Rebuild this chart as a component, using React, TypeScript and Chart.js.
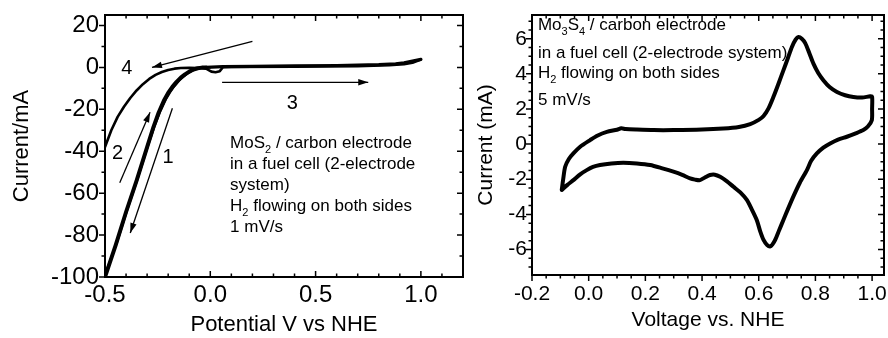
import React, { useEffect, useRef } from "react";
import { Chart, registerables } from "chart.js";

Chart.register(...registerables);

const FONT = "'Liberation Sans', Arial, Helvetica, sans-serif";

// ---------------- Left panel: MoS2 / carbon electrode ----------------
const leftXTicks = [-0.5, 0.0, 0.5, 1.0];
const leftYTicks = [-100, -80, -60, -40, -20, 0, 20];

// scan 1 (thick cathodic branch)
const scan1V = [-0.5, -0.45, -0.4, -0.35, -0.3, -0.27, -0.245, -0.22, -0.2, -0.18, -0.16, -0.14, -0.12, -0.1, -0.08, -0.06, -0.04, -0.02];
const scan1I = [-100, -85, -69, -54, -38, -28.5, -21.5, -15.8, -12.2, -9.3, -6.9, -4.9, -3.3, -2.0, -1.0, -0.4, -0.1, 0];
// scan 2 (return, slightly shifted)
const scan2V = [-0.494, -0.444, -0.394, -0.344, -0.294, -0.262, -0.236, -0.21, -0.19, -0.17, -0.15, -0.13, -0.11, -0.09, -0.07, -0.05, -0.03, 0.0];
const scan2I = [-97, -84, -68, -53, -37, -27.5, -20.8, -15.2, -11.8, -9.0, -6.6, -4.7, -3.1, -1.9, -0.9, -0.4, -0.1, 0];
// scan 3 (forward to 1.0 V)
const scan3V = [-0.02, 0.06, 0.2, 0.4, 0.6, 0.8, 0.88, 0.92, 0.96, 1.0];
const scan3I = [0, 0.4, 0.5, 0.7, 0.9, 1.3, 1.7, 2.2, 3.0, 3.8];
// scan 4 (return to -0.5 V)
const scan4V = [1.0, 0.96, 0.92, 0.85, 0.7, 0.4, 0.1, 0.06, 0.045, 0.025, 0.005, -0.02, -0.06, -0.1, -0.14, -0.17, -0.2, -0.23, -0.26, -0.29, -0.32, -0.35, -0.38, -0.41, -0.44, -0.47, -0.5];
const scan4I = [3.8, 2.2, 1.5, 1.0, 0.6, 0.3, 0.2, 0.1, -1.8, -2.3, -2.0, -0.6, -0.3, -0.2, -0.3, -0.6, -1.2, -2.2, -3.6, -5.5, -8.0, -11.0, -14.6, -18.8, -23.6, -30.0, -38.0];

// direction arrows (start -> end, head at end)
const arrow1V = [-0.18, -0.38];
const arrow1I = [-19.5, -79];
const arrow2V = [-0.43, -0.286];
const arrow2I = [-55, -21.4];
const arrow3V = [0.056, 0.75];
const arrow3I = [-7.1, -7.1];
const arrow4V = [0.2, -0.277];
const arrow4I = [12.4, 0];

// ---------------- Right panel: Mo3S4 / carbon electrode ----------------
const rightXTicks = [-0.2, 0.0, 0.2, 0.4, 0.6, 0.8, 1.0];
const rightYTicks = [-6, -4, -2, 0, 2, 4, 6];

const cvV = [
  -0.095, -0.09, -0.083, -0.07, -0.054, -0.03, 0.005, 0.03, 0.064, 0.1, 0.115, 0.13, 0.17, 0.23, 0.3, 0.4,
  0.475, 0.53, 0.57, 0.6, 0.617, 0.635, 0.652, 0.67, 0.687, 0.703, 0.717, 0.73, 0.74, 0.752, 0.764, 0.778,
  0.793, 0.81, 0.828, 0.85, 0.876, 0.905, 0.934, 0.965, 0.993, 1.0,
  1.0, 0.999, 0.985, 0.969, 0.94, 0.911, 0.88, 0.852, 0.828, 0.805, 0.785, 0.77, 0.745, 0.722, 0.703, 0.687,
  0.672, 0.658, 0.648, 0.64, 0.63, 0.617, 0.605, 0.593, 0.575, 0.558, 0.535, 0.511, 0.488, 0.464, 0.445, 0.428,
  0.41, 0.393, 0.375, 0.358, 0.33, 0.299, 0.26, 0.217, 0.17, 0.122, 0.08, 0.04, 0.015, -0.007, -0.03, -0.054,
  -0.075, -0.095,
];
const cvI = [
  -2.61, -2.0, -1.29, -0.85, -0.53, -0.15, 0.23, 0.48, 0.7, 0.82, 0.9, 0.86, 0.83, 0.8, 0.8, 0.83,
  0.89, 0.98, 1.14, 1.38, 1.6, 2.05, 2.69, 3.45, 4.2, 4.9, 5.53, 5.95, 6.1, 6.0, 5.75, 5.2,
  4.58, 4.05, 3.64, 3.25, 2.97, 2.78, 2.68, 2.65, 2.72, 2.7,
  2.0, 1.36, 1.0, 0.8, 0.6, 0.42, 0.26, 0.04, -0.2, -0.53, -0.95, -1.48, -2.2, -2.99, -3.7, -4.32,
  -4.9, -5.45, -5.72, -5.83, -5.75, -5.45, -4.95, -4.32, -3.7, -3.18, -2.75, -2.43, -2.12, -1.86, -1.74, -1.76,
  -1.9, -2.05, -2.02, -1.95, -1.75, -1.57, -1.38, -1.19, -1.1, -1.06, -1.1, -1.19, -1.3, -1.48, -1.72, -2.05,
  -2.32, -2.61,
];

// ---------------- helpers ----------------
const pts = (xs: number[], ys: number[]) => xs.map((x, i) => ({ x, y: ys[i] }));
const range = (a: number, b: number, step: number) => {
  const out: number[] = [];
  for (let v = a; v <= b + 1e-9; v += step) out.push(Math.round(v * 1000) / 1000);
  return out;
};

type Seg = { t: string; sub?: boolean };
type Note = { x: number; y: number; size: number; align?: CanvasTextAlign; lines: { dy: number; segs: Seg[] }[] };

type FrameCfg = {
  xMajor: number[];
  xMinor: number[];
  yMajor: number[];
  yMinor: number[];
  leftOut: boolean;
  bottomOut: boolean;
};

function framePlugin(cfg: FrameCfg) {
  return {
    id: "frameTicks",
    afterDraw(chart: any) {
      const { ctx, chartArea: a } = chart;
      const xs = chart.scales.x;
      const ys = chart.scales.y;
      ctx.save();
      ctx.strokeStyle = "#000";
      ctx.lineWidth = 1.5;
      ctx.beginPath();
      const seg = (x1: number, y1: number, x2: number, y2: number) => {
        ctx.moveTo(x1, y1);
        ctx.lineTo(x2, y2);
      };
      const drawX = (vals: number[], len: number) => {
        for (const v of vals) {
          const p = xs.getPixelForValue(v);
          if (p < a.left - 0.5 || p > a.right + 0.5) continue;
          if (cfg.bottomOut) seg(p, a.bottom, p, a.bottom + len);
          else seg(p, a.bottom, p, a.bottom - len);
          seg(p, a.top, p, a.top + len);
        }
      };
      const drawY = (vals: number[], len: number) => {
        for (const v of vals) {
          const p = ys.getPixelForValue(v);
          if (p < a.top - 0.5 || p > a.bottom + 0.5) continue;
          if (cfg.leftOut) seg(a.left, p, a.left - len, p);
          else seg(a.left, p, a.left + len, p);
          seg(a.right, p, a.right - len, p);
        }
      };
      drawX(cfg.xMajor, 6);
      drawX(cfg.xMinor, 3.5);
      drawY(cfg.yMajor, 6);
      drawY(cfg.yMinor, 3.5);
      ctx.stroke();
      ctx.lineWidth = 2;
      ctx.strokeRect(a.left, a.top, a.right - a.left, a.bottom - a.top);
      ctx.restore();
    },
  };
}

function notesPlugin(notes: Note[], arrowIdx: number[]) {
  return {
    id: "notes",
    afterDatasetsDraw(chart: any) {
      const { ctx } = chart;
      const xs = chart.scales.x;
      const ys = chart.scales.y;
      ctx.save();
      // arrow heads
      ctx.fillStyle = "#000";
      for (const i of arrowIdx) {
        const d = chart.getDatasetMeta(i).data;
        if (d.length < 2) continue;
        const p1 = d[d.length - 1];
        const p0 = d[d.length - 2];
        const ang = Math.atan2(p1.y - p0.y, p1.x - p0.x);
        const L = 10;
        const W = 3.2;
        ctx.beginPath();
        ctx.moveTo(p1.x, p1.y);
        ctx.lineTo(p1.x - L * Math.cos(ang) + W * Math.sin(ang), p1.y - L * Math.sin(ang) - W * Math.cos(ang));
        ctx.lineTo(p1.x - L * Math.cos(ang) - W * Math.sin(ang), p1.y - L * Math.sin(ang) + W * Math.cos(ang));
        ctx.closePath();
        ctx.fill();
      }
      // texts
      ctx.textBaseline = "middle";
      for (const n of notes) {
        const px0 = xs.getPixelForValue(n.x);
        const py0 = ys.getPixelForValue(n.y);
        for (const line of n.lines) {
          let total = 0;
          for (const s of line.segs) {
            ctx.font = `${s.sub ? Math.round(n.size * 0.62) : n.size}px ${FONT}`;
            total += ctx.measureText(s.t).width;
          }
          let x = n.align === "center" ? px0 - total / 2 : px0;
          const y = py0 + line.dy;
          ctx.textAlign = "left";
          for (const s of line.segs) {
            ctx.font = `${s.sub ? Math.round(n.size * 0.62) : n.size}px ${FONT}`;
            ctx.fillText(s.t, x, s.sub ? y + n.size * 0.38 : y);
            x += ctx.measureText(s.t).width;
          }
        }
      }
      ctx.restore();
    },
  };
}

function scale(opts: {
  min: number;
  max: number;
  ticks: number[];
  fmt: (v: number) => string;
  size: number;
  fit: number;
  horizontal: boolean;
  title: string;
  titleSize: number;
  titlePad: any;
  tickPad: number;
}) {
  return {
    type: "linear",
    min: opts.min,
    max: opts.max,
    afterBuildTicks: (s: any) => {
      s.ticks = opts.ticks.map((v) => ({ value: v }));
    },
    afterFit: (s: any) => {
      if (opts.horizontal) s.height = opts.fit;
      else s.width = opts.fit;
      s.paddingTop = 0;
      s.paddingBottom = 0;
      s.paddingLeft = 0;
      s.paddingRight = 0;
    },
    grid: { display: false, drawTicks: false },
    border: { display: false },
    ticks: {
      autoSkip: false,
      maxRotation: 0,
      minRotation: 0,
      padding: opts.tickPad,
      color: "#000",
      font: { size: opts.size, family: FONT },
      callback: (v: any) => opts.fmt(Number(v)),
    },
    title: {
      display: true,
      text: opts.title,
      color: "#000",
      font: { size: opts.titleSize, family: FONT },
      padding: opts.titlePad,
    },
  };
}

const lineDs = (data: any[], width: number) => ({
  data,
  showLine: true,
  borderColor: "#000",
  backgroundColor: "#000",
  borderWidth: width,
  pointRadius: 0,
  tension: 0,
  borderJoinStyle: "round",
  borderCapStyle: "round",
  fill: false,
});

function leftConfig(): any {
  const datasets = [
    lineDs(pts(scan4V, scan4I), 2.6),
    lineDs(pts(scan3V, scan3I), 3.2),
    lineDs(pts(scan1V, scan1I), 4),
    lineDs(pts(scan2V, scan2I), 2),
    { ...lineDs(pts(arrow1V, arrow1I), 1.3), borderCapStyle: "butt" },
    { ...lineDs(pts(arrow2V, arrow2I), 1.3), borderCapStyle: "butt" },
    { ...lineDs(pts(arrow3V, arrow3I), 1.3), borderCapStyle: "butt" },
    { ...lineDs(pts(arrow4V, arrow4I), 1.3), borderCapStyle: "butt" },
  ];
  const notes: Note[] = [
    { x: -0.2, y: -43, size: 20, align: "center", lines: [{ dy: 0, segs: [{ t: "1" }] }] },
    { x: -0.44, y: -41, size: 20, align: "center", lines: [{ dy: 0, segs: [{ t: "2" }] }] },
    { x: 0.39, y: -17, size: 20, align: "center", lines: [{ dy: 0, segs: [{ t: "3" }] }] },
    { x: -0.396, y: -0.5, size: 20, align: "center", lines: [{ dy: 0, segs: [{ t: "4" }] }] },
    {
      x: 0.094,
      y: -36.2,
      size: 17,
      lines: [
        { dy: 0, segs: [{ t: "MoS" }, { t: "2", sub: true }, { t: " / carbon electrode" }] },
        { dy: 21, segs: [{ t: "in a fuel cell (2-electrode" }] },
        { dy: 42, segs: [{ t: "system)" }] },
        { dy: 63, segs: [{ t: "H" }, { t: "2", sub: true }, { t: " flowing on both sides" }] },
        { dy: 84, segs: [{ t: "1 mV/s" }] },
      ],
    },
  ];
  return {
    type: "scatter",
    data: { datasets },
    options: {
      responsive: false,
      animation: false,
      devicePixelRatio: 1,
      layout: { padding: { left: 0, right: 17, top: 15, bottom: 0 } },
      scales: {
        x: scale({
          min: -0.5,
          max: 1.2,
          ticks: leftXTicks,
          fmt: (v) => v.toFixed(1),
          size: 24,
          fit: 61,
          horizontal: true,
          title: "Potential V vs NHE",
          titleSize: 22,
          titlePad: { top: 0, bottom: 0 },
          tickPad: 4,
        }),
        y: scale({
          min: -100,
          max: 25,
          ticks: leftYTicks,
          fmt: (v) => String(v),
          size: 24,
          fit: 105,
          horizontal: false,
          title: "Current/mA",
          titleSize: 22,
          titlePad: { top: 9, bottom: 0 },
          tickPad: 6,
        }),
      },
      plugins: { legend: { display: false }, tooltip: { enabled: false } },
    },
    plugins: [
      framePlugin({
        xMajor: leftXTicks,
        xMinor: range(-0.5, 1.2, 0.1),
        yMajor: leftYTicks,
        yMinor: range(-100, 20, 10),
        leftOut: true,
        bottomOut: false,
      }),
      notesPlugin(notes, [4, 5, 6, 7]),
    ],
  };
}

function rightConfig(): any {
  const datasets = [{ ...lineDs(pts(cvV, cvI), 4), tension: 0.25 }];
  const notes: Note[] = [
    {
      x: -0.179,
      y: 6.76,
      size: 17,
      lines: [
        { dy: 0, segs: [{ t: "Mo" }, { t: "3", sub: true }, { t: "S" }, { t: "4", sub: true }, { t: " / carbon electrode" }] },
        { dy: 28, segs: [{ t: "in a fuel cell (2-electrode system)" }] },
        { dy: 48, segs: [{ t: "H" }, { t: "2", sub: true }, { t: " flowing on both sides" }] },
        { dy: 75, segs: [{ t: "5 mV/s" }] },
      ],
    },
  ];
  return {
    type: "scatter",
    data: { datasets },
    options: {
      responsive: false,
      animation: false,
      devicePixelRatio: 1,
      layout: { padding: { left: 0, right: 4, top: 15, bottom: 0 } },
      scales: {
        x: scale({
          min: -0.2,
          max: 1.042,
          ticks: rightXTicks,
          fmt: (v) => v.toFixed(1),
          size: 21,
          fit: 63,
          horizontal: true,
          title: "Voltage vs. NHE",
          titleSize: 21,
          titlePad: { top: 0, bottom: 5 },
          tickPad: 7,
        }),
        y: scale({
          min: -7.45,
          max: 7.35,
          ticks: rightYTicks,
          fmt: (v) => String(v),
          size: 21,
          fit: 62,
          horizontal: false,
          title: "Current (mA)",
          titleSize: 21,
          titlePad: { top: 4, bottom: 0 },
          tickPad: 5,
        }),
      },
      plugins: { legend: { display: false }, tooltip: { enabled: false } },
    },
    plugins: [
      framePlugin({
        xMajor: rightXTicks,
        xMinor: range(-0.2, 1.04, 0.05),
        yMajor: rightYTicks,
        yMinor: range(-7, 7, 0.5),
        leftOut: true,
        bottomOut: true,
      }),
      notesPlugin(notes, []),
    ],
  };
}

function ChartCanvas({ make, left, width }: { make: () => any; left: number; width: number }) {
  const ref = useRef<HTMLCanvasElement | null>(null);
  useEffect(() => {
    if (!ref.current) return;
    const chart = new Chart(ref.current, make());
    return () => chart.destroy();
  }, []);
  return (
    <canvas
      ref={ref}
      width={width}
      height={338}
      style={{ position: "absolute", left, top: 0, width, height: 338 }}
    />
  );
}

export default function App() {
  return (
    <div style={{ position: "fixed", left: 0, top: 0, width: 888, height: 338, background: "#fff", overflow: "hidden" }}>
      <ChartCanvas make={leftConfig} left={0} width={480} />
      <ChartCanvas make={rightConfig} left={470} width={418} />
    </div>
  );
}
